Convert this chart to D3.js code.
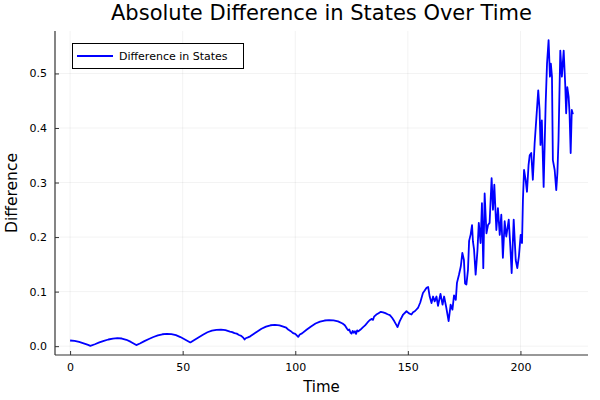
<!DOCTYPE html>
<html>
<head>
<meta charset="utf-8">
<script src="https://cdn.jsdelivr.net/npm/d3@7"></script>
<style>
  html, body { margin: 0; padding: 0; background: #fff; }
  svg { display: block; font-family: "DejaVu Sans", sans-serif; }
</style>
</head>
<body>
<svg id="chart" width="600" height="400"></svg>
<script>
const titleText = "Absolute Difference in States Over Time";
const xLabel = "Time";
const yLabel = "Difference";
const seriesName = "Difference in States";
const xTicks = [0, 50, 100, 150, 200];
const yTicks = [0.0, 0.1, 0.2, 0.3, 0.4, 0.5];

const times = [
  0, 2, 4, 6, 8, 9, 11, 13, 15, 17, 19, 21, 23, 25, 27, 29.4,
  31, 33, 35, 37, 39, 41, 43, 45, 47, 49, 51, 53.4,
  55, 57, 59, 61, 63, 65, 67, 69, 71, 72, 73, 74, 75, 76, 77, 77.5,
  78, 79, 80, 81, 83, 85, 87, 89, 91, 93, 95, 96, 97, 98, 99, 100, 101.3,
  102, 103, 105, 107, 109, 111, 113, 115, 117, 119, 121, 122, 123, 123.5,
  124, 124.5, 125, 125.5, 126, 126.5, 127, 127.5, 128, 129, 130, 131, 132,
  133, 134, 134.5, 135, 136, 137, 138, 139, 140, 141, 142, 143, 144, 145, 145.4,
  146.4, 147.9, 149.4, 150.5, 151.6, 152.3, 153.1, 154.5, 155.5, 156.7, 157.5,
  158.3, 159.0, 159.7, 160.5, 161.2, 161.9, 162.7, 163.4, 164.5, 165.4, 166.1,
  167.1, 168.1, 169.0, 169.8, 170.5, 171.3, 171.8, 172.7, 173.5, 174.2, 174.9,
  175.4, 176.0, 176.7, 177.2, 177.9, 178.5, 178.9, 179.4, 180.1, 180.9, 181.5,
  182.3, 182.9, 183.5, 184.1, 184.9, 185.6, 186.3, 187.2, 187.8, 188.4, 189.3,
  190.0, 190.8, 191.5, 192.2, 193.0, 193.7, 194.8, 195.5, 196.1, 197.0, 197.9,
  198.6, 199.3, 200.1, 200.7, 201.1, 201.6, 202.3, 202.9, 203.6, 204.1, 204.8,
  205.5, 206.3, 207.0, 207.9, 208.5, 208.9, 209.5, 210.3, 211.2, 211.8, 212.5,
  213.1, 213.5, 214.0, 214.4, 215.2, 215.9, 216.4, 216.9, 217.7, 218.4, 219.2,
  219.9, 220.3, 220.8, 221.4, 221.8, 222.3, 222.8, 223.3
];

const diffs = [
  0.0104, 0.0095, 0.0077, 0.0052, 0.0022, 0.0006, 0.0035, 0.0068, 0.0098, 0.0122, 0.0139, 0.0146, 0.0140, 0.0117, 0.0078, 0.0020,
  0.0048, 0.0092, 0.0132, 0.0168, 0.0198, 0.0218, 0.0227, 0.0222, 0.0202, 0.0167, 0.0122, 0.0068,
  0.0110, 0.0160, 0.0210, 0.0255, 0.0285, 0.0300, 0.0302, 0.0292, 0.0268, 0.0258, 0.0238, 0.0230, 0.0205, 0.0190, 0.0150, 0.0122,
  0.0145, 0.0160, 0.0180, 0.0210, 0.0265, 0.0318, 0.0358, 0.0383, 0.0392, 0.0382, 0.0352, 0.0338, 0.0300, 0.0275, 0.0240, 0.0225, 0.0170,
  0.0214, 0.0235, 0.0300, 0.0362, 0.0415, 0.0450, 0.0470, 0.0476, 0.0472, 0.0455, 0.0415, 0.0385, 0.0320, 0.0290,
  0.0305, 0.0250, 0.0230, 0.0280, 0.0245, 0.0275, 0.0225, 0.0290, 0.0270, 0.0305, 0.0345, 0.0380, 0.0430,
  0.0475, 0.0500, 0.0480, 0.0540, 0.0580, 0.0605, 0.0630, 0.0620, 0.0605, 0.0585, 0.0570, 0.0520, 0.0455, 0.0380, 0.0350,
  0.0460, 0.0580, 0.0640, 0.0600, 0.0580, 0.0620, 0.0640, 0.0700, 0.0800, 0.0976, 0.1020,
  0.1070, 0.1086, 0.0910, 0.0790, 0.0910, 0.0820, 0.0910, 0.0740, 0.0960, 0.0760, 0.0910,
  0.0700, 0.0460, 0.0760, 0.0670, 0.0930, 0.0850, 0.1160, 0.1310, 0.1460, 0.1710, 0.1580,
  0.1150, 0.1130, 0.1400, 0.1930, 0.2050, 0.2220, 0.1920, 0.1770, 0.1310, 0.1750, 0.2260,
  0.1890, 0.2620, 0.1430, 0.2800, 0.2070, 0.2220, 0.2260, 0.3080, 0.2500, 0.2960, 0.2130,
  0.2530, 0.2040, 0.2410, 0.1620, 0.2290, 0.2010, 0.2320, 0.1830, 0.1340, 0.2320, 0.1580,
  0.1430, 0.1640, 0.2040, 0.1890, 0.2680, 0.3230, 0.3050, 0.2830, 0.3320, 0.3500, 0.3540,
  0.3050, 0.3720, 0.4140, 0.4690, 0.4330, 0.3690, 0.4140, 0.2920, 0.4450, 0.5180, 0.5610,
  0.4940, 0.5180, 0.4940, 0.3410, 0.3230, 0.2860, 0.3170, 0.3780, 0.5420, 0.4940, 0.5420,
  0.4780, 0.4270, 0.4750, 0.4570, 0.4270, 0.3540, 0.4330, 0.4250
];

const data = times.map((t, i) => ({ t, v: diffs[i] }));

const svg = d3.select("#chart");
const plot = { left: 55, right: 588, top: 31, bottom: 355 };

function widen(ext) {
  const span = ext[1] - ext[0];
  return [ext[0] - 0.03 * span, ext[1] + 0.03 * span];
}

const x = d3.scaleLinear().domain(widen(d3.extent(times))).range([plot.left, plot.right]);
const y = d3.scaleLinear().domain(widen(d3.extent(diffs))).range([plot.bottom, plot.top]);

// grid
const grid = svg.append("g").attr("stroke", "#000").attr("stroke-opacity", 0.1).attr("stroke-width", 0.5);
grid.selectAll(".gx").data(xTicks).join("line")
  .attr("x1", d => x(d)).attr("x2", d => x(d))
  .attr("y1", plot.top).attr("y2", plot.bottom);
grid.selectAll(".gy").data(yTicks).join("line")
  .attr("y1", d => y(d)).attr("y2", d => y(d))
  .attr("x1", plot.left).attr("x2", plot.right);

// axes
const xAxis = d3.axisBottom(x).tickValues(xTicks).tickFormat(d3.format("d")).tickSizeInner(-4).tickSizeOuter(0).tickPadding(8);
const yAxis = d3.axisLeft(y).tickValues(yTicks).tickFormat(d3.format(".1f")).tickSizeInner(-4).tickSizeOuter(0).tickPadding(8);

const gx = svg.append("g").attr("transform", `translate(0,${plot.bottom})`).call(xAxis);
const gy = svg.append("g").attr("transform", `translate(${plot.left},0)`).call(yAxis);
[gx, gy].forEach(g => {
  g.select(".domain").attr("stroke", "#333").attr("stroke-width", 1.2);
  g.selectAll(".tick line").attr("stroke", "#333").attr("stroke-width", 1);
  g.selectAll(".tick text").attr("fill", "#000").style("font-size", "11px").style("font-family", "DejaVu Sans, sans-serif");
});
gx.select(".domain").attr("d", `M${plot.left},0H${plot.right}`);
gy.select(".domain").attr("d", `M0,${plot.bottom}V${plot.top}`);

// line
const line = d3.line().x(d => x(d.t)).y(d => y(d.v));
svg.append("path").datum(data)
  .attr("fill", "none").attr("stroke", "#0000ff").attr("stroke-width", 1.8)
  .attr("stroke-linejoin", "round")
  .attr("d", line);

// title & labels
svg.append("text").attr("x", (plot.left + plot.right) / 2).attr("y", 20)
  .attr("text-anchor", "middle").style("font-size", "21px").attr("fill", "#000").text(titleText);
svg.append("text").attr("x", (plot.left + plot.right) / 2).attr("y", 392)
  .attr("text-anchor", "middle").style("font-size", "15px").attr("fill", "#000").text(xLabel);
svg.append("text").attr("transform", `translate(17,${(plot.top + plot.bottom) / 2}) rotate(-90)`)
  .attr("text-anchor", "middle").style("font-size", "15.5px").attr("fill", "#000").text(yLabel);

// legend
const lg = svg.append("g");
lg.append("rect").attr("x", 72.5).attr("y", 43.5).attr("width", 171).attr("height", 25)
  .attr("fill", "#fff").attr("stroke", "#000").attr("stroke-width", 1);
lg.append("line").attr("x1", 77).attr("x2", 113).attr("y1", 56).attr("y2", 56)
  .attr("stroke", "#0000ff").attr("stroke-width", 1.8);
lg.append("text").attr("x", 119).attr("y", 60).style("font-size", "11px").attr("fill", "#000").text(seriesName);
</script>
</body>
</html>
